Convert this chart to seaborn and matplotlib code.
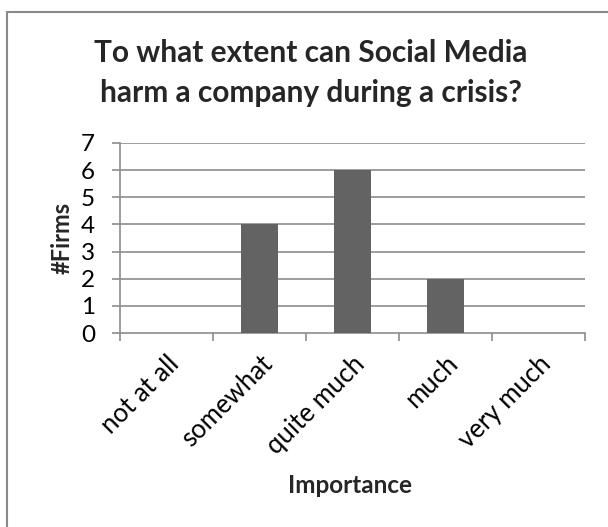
import matplotlib
matplotlib.use("Agg")
import matplotlib.pyplot as plt
import seaborn as sns
import pandas as pd
from matplotlib.patches import Rectangle
from matplotlib.ticker import FixedLocator

categories = ["not at all", "somewhat", "quite much", "much", "very much"]
firms = [0, 4, 6, 2, 0]
y_ticks = [0, 1, 2, 3, 4, 5, 6, 7]
title_lines = ["To what extent can Social Media", "harm a company during a crisis?"]

sns.set_theme(style="white")
plt.rcParams['font.family'] = ['Lato', 'DejaVu Sans']

df = pd.DataFrame({"Importance": categories, "Firms": firms})

W, H = 608, 527
fig = plt.figure(figsize=(W / 100, H / 100), dpi=100)
ax = fig.add_axes([120 / W, 1 - 333 / H, (585 - 120) / W, (333 - 143) / H])

sns.barplot(data=df, x="Importance", y="Firms", order=categories, color="#636363",
            width=0.39, saturation=1, ax=ax, zorder=3, linewidth=0)

grid_c = "#8c8c8c"
ax.set_xlim(-0.5, len(categories) - 0.5)
ax.set_ylim(0, 7)
ax.set_yticks(y_ticks)
ax.set_yticklabels([str(v) for v in y_ticks], fontsize=17.5, color="black")
for v in y_ticks[1:]:
    ax.axhline(v, color=grid_c, lw=1.2, zorder=1)

ax.set_xticks(range(len(categories)))
ax.set_xticklabels(categories, rotation=45, ha="right", rotation_mode="anchor",
                   fontsize=18.5, color="black")
ax.tick_params(axis="x", which="major", length=0, pad=13)
ax.xaxis.set_minor_locator(FixedLocator([i - 0.5 for i in range(len(categories) + 1)]))
ax.tick_params(axis="x", which="minor", length=6, width=1.2, color=grid_c, bottom=True)
ax.tick_params(axis="y", which="major", length=6, width=1.2, color=grid_c, left=True, pad=12)

for s in ["top", "right"]:
    ax.spines[s].set_visible(False)
for s in ["left", "bottom"]:
    ax.spines[s].set_color(grid_c)
    ax.spines[s].set_linewidth(1.2)

ax.set_xlabel("")
ax.set_ylabel("")
fig.text(70 / W, 1 - 238 / H, "#Firms", rotation=90, rotation_mode="anchor",
         ha="center", va="baseline", fontsize=17, fontweight="bold")
fig.text(350 / W, 1 - 493 / H, "Importance", ha="center", va="baseline",
         fontsize=17.5, fontweight="bold")
for line, yb in zip(title_lines, [62, 102]):
    fig.text(311 / W, 1 - yb / H, line, ha="center", va="baseline",
             fontsize=21.5, fontweight="bold")

fig.patches.append(Rectangle((7 / W, -0.05), 1.2, 1 - 12 / H + 0.05, transform=fig.transFigure,
                             fill=False, edgecolor="#8a8a8a", lw=1.5))

fig.savefig("out.png", dpi=100)
